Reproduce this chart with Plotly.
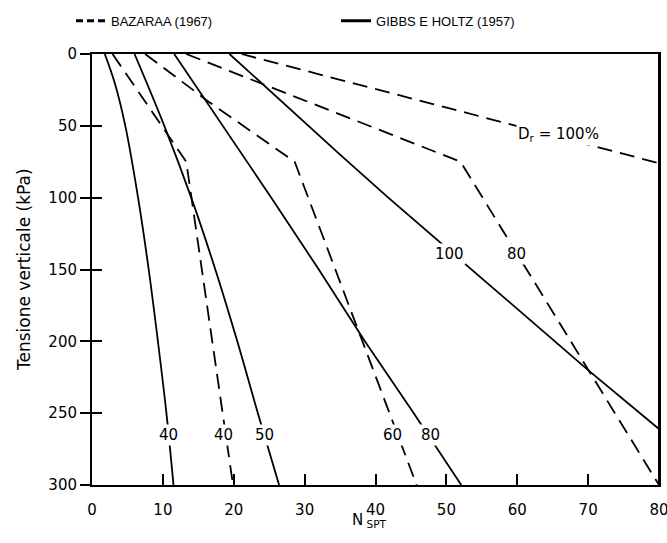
import plotly.graph_objects as go

# ---------------- data (N_SPT vs vertical stress, kPa) ----------------
# Bazaraa (1967) - dashed
bz40_sigma = [0, 75, 300]
bz40_n = [2.9, 13.3, 19.9]
bz60_sigma = [0, 33, 75, 300]
bz60_n = [7.5, 16.4, 28.6, 45.8]
bz80_sigma = [0, 75, 300]
bz80_n = [13.3, 52.0, 80.0]
bz100_sigma = [0, 76]
bz100_n = [21.1, 80.0]

# Gibbs e Holtz (1957) - solid
gh40_sigma = [0, 20, 50, 100, 150, 200, 250, 300]
gh40_n = [1.8, 3.2, 4.7, 6.5, 8.0, 9.3, 10.5, 11.5]
gh50_sigma = [0, 50, 100, 150, 200, 250, 300]
gh50_n = [6.0, 10.2, 14.0, 17.4, 20.5, 23.4, 26.4]
gh80_sigma = [0, 50, 100, 150, 200, 250, 300]
gh80_n = [11.6, 18.5, 25.3, 32.0, 38.5, 45.4, 52.1]
gh100_sigma = [0, 37, 70, 100, 131, 157, 220, 261]
gh100_n = [19.4, 27.6, 35.0, 41.8, 49.0, 55.2, 70.0, 80.0]

# curve labels
label_text = ["40", "40", "50", "60", "80", "100", "80", "D<sub>r</sub> = 100%"]
label_n = [10.75, 18.5, 24.4, 42.4, 47.8, 50.4, 59.9, 65.8]
label_sigma = [265, 265, 265, 265, 265, 139, 139, 56]

x_ticks = [0, 10, 20, 30, 40, 50, 60, 70, 80]
y_ticks = [0, 50, 100, 150, 200, 250, 300]

FONT = "DejaVu Sans"
BLACK = "#000000"

fig = go.Figure()

dash_b = "15px,8px"
for s, n in [(bz40_sigma, bz40_n), (bz60_sigma, bz60_n),
             (bz80_sigma, bz80_n), (bz100_sigma, bz100_n)]:
    fig.add_trace(go.Scatter(x=n, y=s, mode="lines", showlegend=False, hoverinfo="skip",
                             line=dict(color=BLACK, width=1.8, dash=dash_b)))

for s, n, shp in [(gh40_sigma, gh40_n, "spline"), (gh50_sigma, gh50_n, "spline"),
                  (gh80_sigma, gh80_n, "linear"), (gh100_sigma, gh100_n, "linear")]:
    fig.add_trace(go.Scatter(x=n, y=s, mode="lines", showlegend=False, hoverinfo="skip",
                             line=dict(color=BLACK, width=1.8, shape=shp)))

# legend entries
fig.add_trace(go.Scatter(x=[None], y=[None], mode="lines", name="BAZARAA (1967)",
                         line=dict(color=BLACK, width=3, dash="7px,4px")))
fig.add_trace(go.Scatter(x=[None], y=[None], mode="lines", name="GIBBS E HOLTZ (1957)",
                         line=dict(color=BLACK, width=3)))
# helper for inside ticks on y
fig.add_trace(go.Scatter(x=[None], y=[None], yaxis="y2", showlegend=False, hoverinfo="skip"))

for t, xn, ys in zip(label_text, label_n, label_sigma):
    fig.add_annotation(x=xn, y=ys, text=t, showarrow=False, bgcolor="white",
                       borderpad=1, font=dict(family=FONT, size=15, color=BLACK))

# axis titles as annotations
fig.add_annotation(xref="paper", yref="paper", x=-0.12, y=0.501, xanchor="center",
                   yanchor="middle", text="Tensione verticale (kPa)",
                   textangle=-90, showarrow=False, font=dict(family=FONT, size=17, color=BLACK))
fig.add_annotation(xref="x", yref="paper", x=39.2, y=-0.11, text="N<sub> SPT</sub>",
                   showarrow=False, font=dict(family=FONT, size=15, color=BLACK))

# right frame line of the plot area
fig.add_shape(type="line", xref="paper", yref="paper", x0=1, x1=1, y0=0, y1=1,
              line=dict(color=BLACK, width=2))

fig.update_layout(
    width=667, height=543,
    margin=dict(l=92, r=8, t=54, b=58, autoexpand=False),
    paper_bgcolor="white", plot_bgcolor="white",
    font=dict(family=FONT, size=15, color=BLACK),
    legend=dict(orientation="h", x=-0.037, xanchor="left", y=1.112, yanchor="top",
                entrywidth=220, entrywidthmode="pixels",
                font=dict(family="Liberation Sans, Arial", size=13, color=BLACK),
                bgcolor="rgba(0,0,0,0)"),
    xaxis=dict(range=[0, 80], tickvals=x_ticks, ticks="inside", ticklen=11, tickwidth=2,
               tickcolor=BLACK, showline=True, linecolor=BLACK, linewidth=2, mirror=True,
               showgrid=False, zeroline=False, ticklabelstandoff=10, automargin=False,
               ticklabeloverflow="allow",
               tickfont=dict(family=FONT, size=15, color=BLACK)),
    yaxis=dict(range=[300, 0], tickvals=y_ticks, ticks="outside", ticklen=10, tickwidth=2,
               tickcolor=BLACK, showline=True, linecolor=BLACK, linewidth=2, mirror=True,
               showgrid=False, zeroline=False, automargin=False,
               tickfont=dict(family=FONT, size=15, color=BLACK)),
    yaxis2=dict(range=[300, 0], tickvals=y_ticks, overlaying="y", side="left", anchor="x",
                ticks="inside", ticklen=10, tickwidth=2, tickcolor=BLACK, automargin=False,
                showticklabels=False, showline=False, showgrid=False, zeroline=False),
)

fig.write_html("out.html", config={"displayModeBar": False},
               post_script="document.body.style.margin='0';document.body.style.overflow='hidden';")
